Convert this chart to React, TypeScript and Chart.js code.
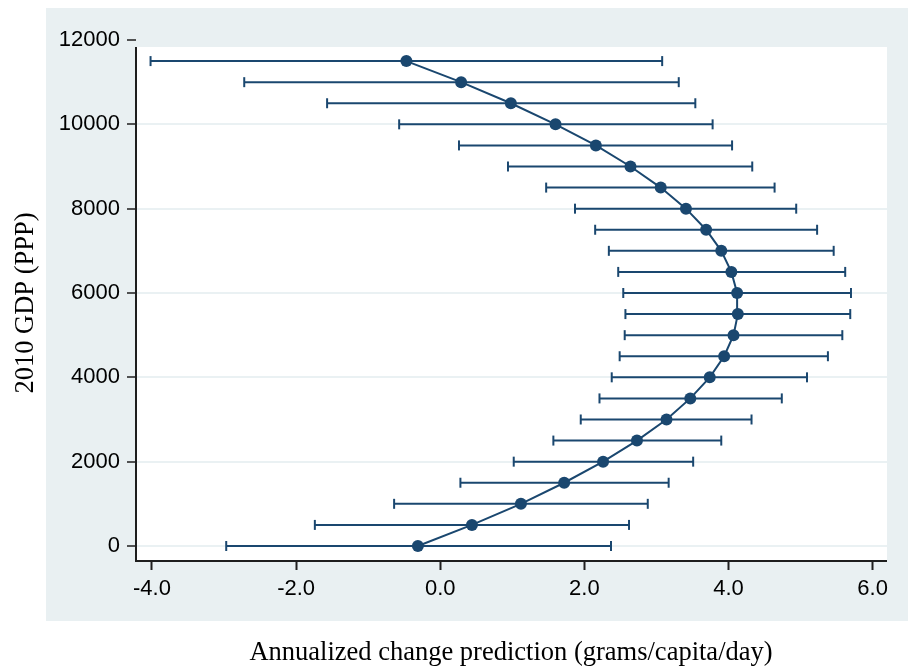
import React, { useEffect, useRef } from "react";
import { Chart, registerables } from "chart.js";

Chart.register(...registerables);

// ---- data ----
const gdp = [0, 500, 1000, 1500, 2000, 2500, 3000, 3500, 4000, 4500, 5000, 5500, 6000, 6500, 7000, 7500, 8000, 8500, 9000, 9500, 10000, 10500, 11000, 11500];
const prediction = [-0.31, 0.44, 1.12, 1.72, 2.26, 2.73, 3.14, 3.47, 3.74, 3.94, 4.07, 4.13, 4.12, 4.04, 3.9, 3.69, 3.41, 3.06, 2.64, 2.16, 1.6, 0.98, 0.29, -0.47];
const ciLow = [-2.97, -1.74, -0.64, 0.28, 1.02, 1.57, 1.95, 2.21, 2.38, 2.49, 2.56, 2.57, 2.54, 2.47, 2.34, 2.15, 1.87, 1.47, 0.94, 0.26, -0.57, -1.57, -2.72, -4.02];
const ciHigh = [2.37, 2.62, 2.88, 3.17, 3.51, 3.9, 4.32, 4.74, 5.09, 5.38, 5.58, 5.69, 5.7, 5.62, 5.46, 5.23, 4.94, 4.64, 4.33, 4.05, 3.78, 3.54, 3.31, 3.08];

const xTicks = [-4, -2, 0, 2, 4, 6];
const yTicks = [0, 2000, 4000, 6000, 8000, 10000, 12000];

const xTitle = "Annualized change prediction (grams/capita/day)";
const yTitle = "2010 GDP (PPP)";

const NAVY = "rgb(26,71,111)";
const PANEL = "rgb(233,240,242)";
const GRID = "rgb(234,241,243)";
const AXIS = "#1e1e1e";

const stataPlugin = {
  id: "stataFrame",
  beforeDraw(chart: any) {
    const { ctx, chartArea, scales } = chart;
    const yTop = scales.y.getPixelForValue(11834);
    ctx.save();
    ctx.fillStyle = "#ffffff";
    ctx.fillRect(0, 0, chart.width, chart.height);
    ctx.fillStyle = PANEL;
    ctx.fillRect(46, 8, chart.width - 46, 613);
    ctx.fillStyle = "#ffffff";
    ctx.fillRect(chartArea.left, yTop, chartArea.right - chartArea.left, chartArea.bottom - yTop);
    ctx.restore();
  },
  afterDatasetsDraw(chart: any) {
    const { ctx, chartArea, scales } = chart;
    const yTop = scales.y.getPixelForValue(11834);
    ctx.save();
    ctx.strokeStyle = AXIS;
    ctx.lineWidth = 2;
    ctx.beginPath();
    ctx.moveTo(chartArea.left, yTop);
    ctx.lineTo(chartArea.left, chartArea.bottom);
    ctx.lineTo(chartArea.right, chartArea.bottom);
    ctx.stroke();

    ctx.fillStyle = "#000";
    ctx.font = '26.5px "Liberation Serif", "Times New Roman", serif';
    ctx.textAlign = "center";
    ctx.textBaseline = "alphabetic";
    ctx.fillText(xTitle, 511, 660);

    ctx.translate(33, 303);
    ctx.rotate(-Math.PI / 2);
    ctx.fillText(yTitle, 0, 0);
    ctx.restore();
  },
};

export default function App() {
  const ref = useRef<HTMLCanvasElement>(null);

  useEffect(() => {
    if (!ref.current) return;
    const errorSets = gdp.map((g, i) => ({
      data: [
        { x: ciLow[i], y: g },
        { x: ciHigh[i], y: g },
      ],
      showLine: true,
      borderColor: NAVY,
      borderWidth: 2,
      pointStyle: "line",
      rotation: 90,
      pointRadius: 5,
      pointBorderWidth: 2,
      pointBorderColor: NAVY,
      pointBackgroundColor: NAVY,
      order: 2,
    }));

    const chart = new Chart(ref.current, {
      type: "scatter",
      data: {
        datasets: [
          {
            data: gdp.map((g, i) => ({ x: prediction[i], y: g })),
            showLine: true,
            borderColor: NAVY,
            borderWidth: 2,
            pointRadius: 6,
            pointBackgroundColor: NAVY,
            pointBorderColor: NAVY,
            pointBorderWidth: 0,
            order: 1,
          } as any,
          ...(errorSets as any[]),
        ],
      },
      options: {
        responsive: false,
        animation: false,
        devicePixelRatio: 1,
        events: [],
        layout: { padding: { left: 0, top: 40, right: 21, bottom: 0 } },
        plugins: { legend: { display: false }, tooltip: { enabled: false }, title: { display: false } },
        scales: {
          x: {
            type: "linear",
            min: -4.222,
            max: 6.2,
            afterFit: (s: any) => {
              s.height = 107;
            },
            afterBuildTicks: (s: any) => {
              s.ticks = xTicks.map((v) => ({ value: v }));
            },
            border: { display: false },
            grid: {
              drawOnChartArea: false,
              drawTicks: true,
              tickLength: 9,
              tickColor: AXIS,
              tickWidth: 2,
            },
            ticks: {
              color: "#000",
              padding: 6,
              maxRotation: 0,
              autoSkip: false,
              font: { family: '"Liberation Sans", Arial, sans-serif', size: 22 },
              callback: (v: any) => Number(v).toFixed(1),
            },
          },
          y: {
            type: "linear",
            min: -356,
            max: 12000,
            afterFit: (s: any) => {
              s.width = 136;
            },
            afterBuildTicks: (s: any) => {
              s.ticks = yTicks.map((v) => ({ value: v }));
            },
            border: { display: false },
            grid: {
              color: (c: any) => (c.tick && c.tick.value === 12000 ? "rgba(0,0,0,0)" : GRID),
              lineWidth: 2,
              drawTicks: true,
              tickLength: 9,
              tickColor: AXIS,
              tickWidth: 1.5,
            },
            ticks: {
              color: "#000",
              padding: 7,
              autoSkip: false,
              font: { family: '"Liberation Sans", Arial, sans-serif', size: 22 },
              callback: (v: any) => String(v),
            },
          },
        },
      },
      plugins: [stataPlugin],
    } as any);

    return () => chart.destroy();
  }, []);

  return (
    <div style={{ position: "fixed", left: 0, top: 0, width: 908, height: 668, background: "#fff" }}>
      <canvas ref={ref} width={908} height={668} style={{ display: "block", width: 908, height: 668 }} />
    </div>
  );
}
